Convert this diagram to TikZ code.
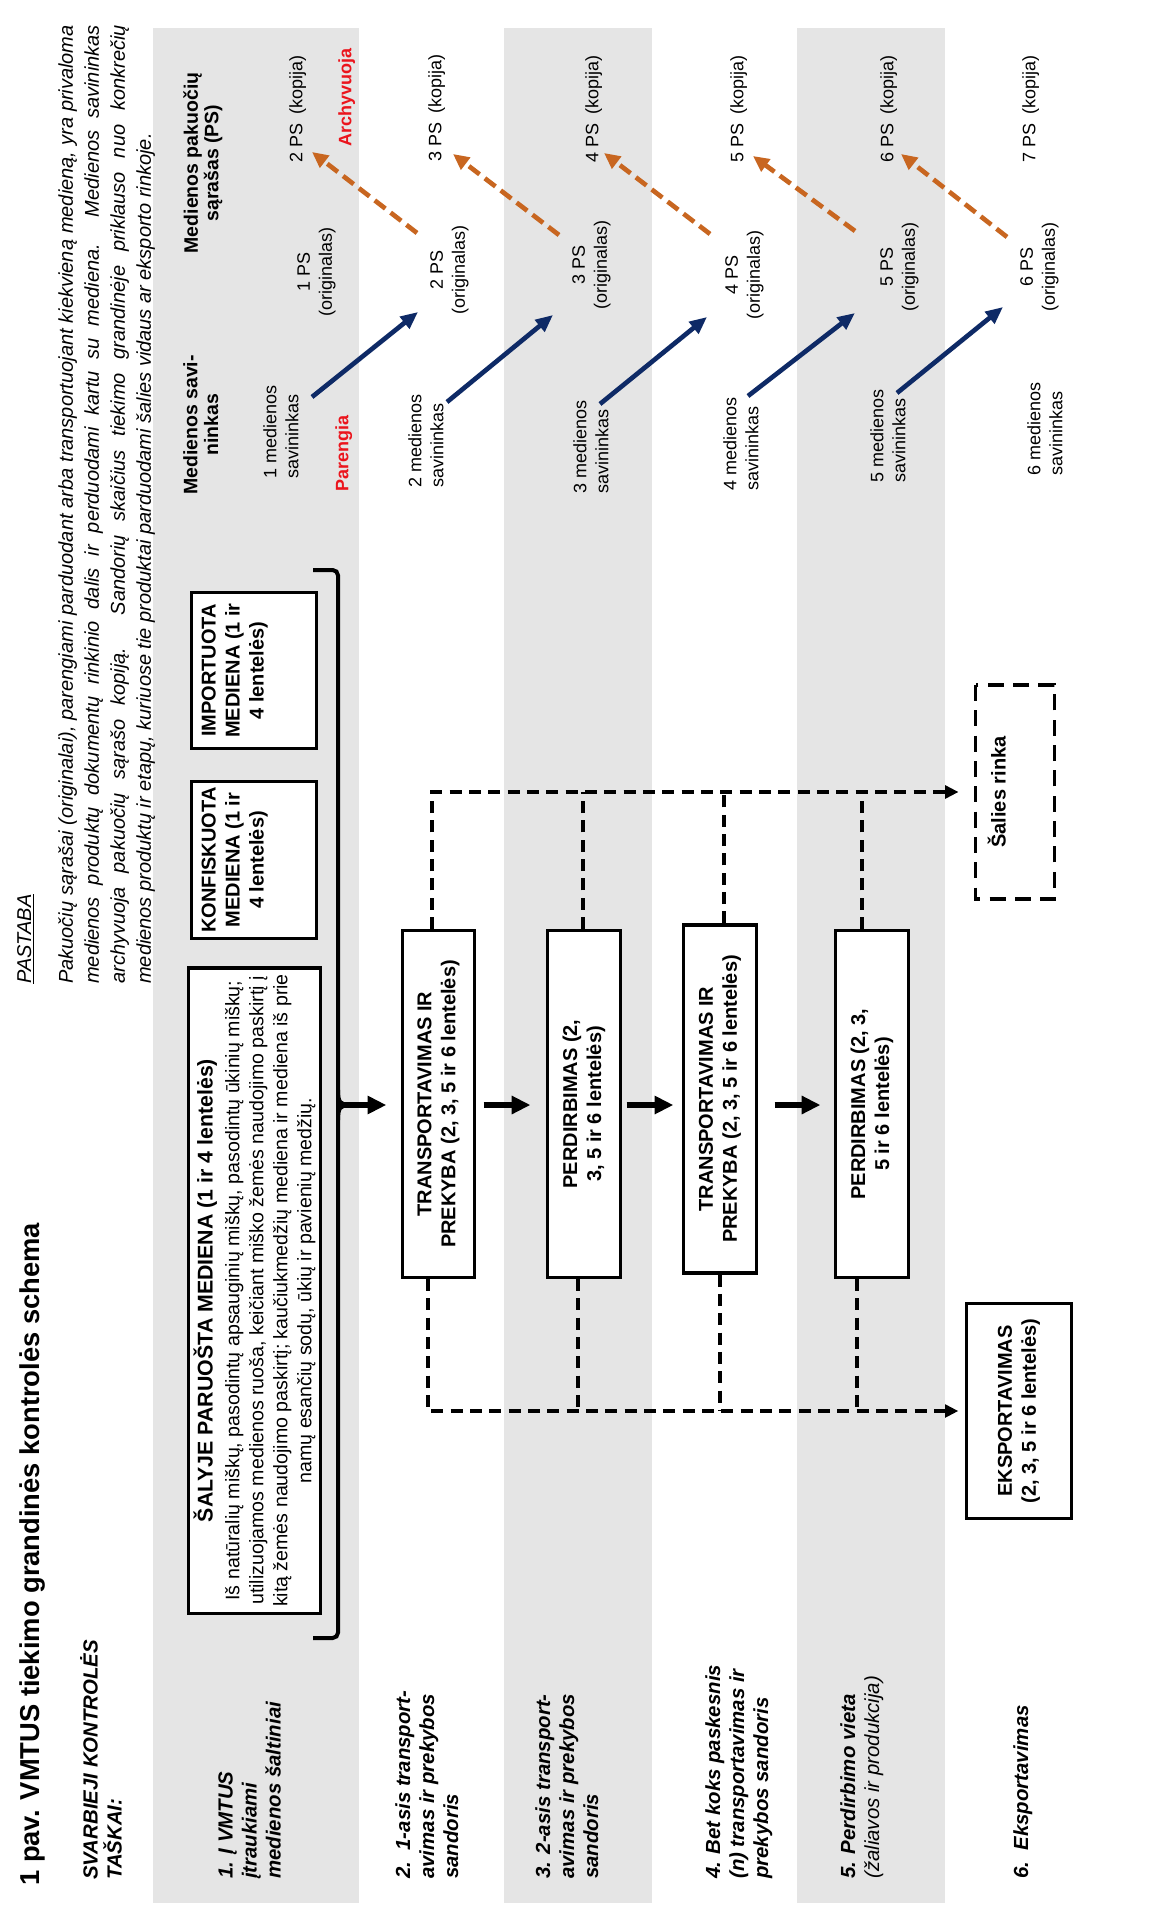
\documentclass[tikz,border=0pt]{standalone}
\usepackage{fontspec}
\setmainfont{Liberation Sans}
\usetikzlibrary{arrows.meta}
\definecolor{bandgray}{RGB}{229,229,229}
\definecolor{navy}{RGB}{14,42,102}
\definecolor{rust}{RGB}{200,102,32}
\definecolor{redtxt}{RGB}{235,20,28}
\newcommand\fTitle{\fontsize{20.5}{24}\selectfont\bfseries}
\newcommand\fBox{\fontsize{15}{18}\selectfont}
\newcommand\fBody{\fontsize{14.7}{18}\selectfont}
\newcommand\fNote{\fontsize{15}{19.5}\selectfont\itshape}
\newcommand\fHead{\fontsize{14.6}{15.5}\selectfont\bfseries}
\newcommand\fSmall{\fontsize{13.5}{16.5}\selectfont}
\newcommand\fLab{\fontsize{15.3}{18}\selectfont\bfseries\itshape}
\begin{document}
\begin{tikzpicture}[x=0.75pt,y=-0.75pt,
  txt/.style={rotate=90,inner sep=0pt,align=left},
  ctxt/.style={rotate=90,inner sep=0pt,align=center},
  mbox/.style={rotate=90,draw,line width=2.5pt,fill=white,inner sep=0pt,align=center,font=\fBox\bfseries},
  dashbox/.style={rotate=90,draw,line width=2.5pt,dash pattern=on 12pt off 7pt,inner sep=0pt},
  bigarrow/.style={line width=5pt,-{Triangle[length=14pt,width=13pt]}},
  dline/.style={line width=2.6pt,dash pattern=on 9pt off 5.5pt},
  dconn/.style={dline,-{Triangle[length=10pt,width=9.5pt]}},
  bluearr/.style={navy,line width=3.5pt,-{Triangle[length=13pt,width=11pt]}},
  rustarr/.style={rust,line width=3.5pt,dash pattern=on 10pt off 5pt,-{Triangle[length=12pt,width=11pt]}},
]
\useasboundingbox (0,0) rectangle (1155,1929);
\fill[white] (0,0) rectangle (1155,1929);
% gray bands
\fill[bandgray] (153,28) rectangle (359,1903);
\fill[bandgray] (504,28) rectangle (652,1903);
\fill[bandgray] (797,28) rectangle (945,1903);

% title and headers
\node[txt, font=\fTitle, anchor=north west] (title) at (19,1886) {1 pav. VMTUS tiekimo grandinės kontrolės schema};
\node[txt, font=\fLab, anchor=north west] (svk) at (80,1880) {SVARBIEJI KONTROLĖS\\TAŠKAI:};
\node[txt, font=\fNote, anchor=north west] (pastaba) at (17,984) {\underline{PASTABA}};
\node[txt, font=\fNote, anchor=north west] (note) at (58,984) {\makebox[719pt][s]{Pakuočių sąrašai (originalai), parengiami parduodant arba transportuojant kiekvieną medieną, yra privaloma}\\
\makebox[719pt][s]{medienos produktų dokumentų rinkinio dalis ir perduodami kartu su mediena. Medienos savininkas}\\
\makebox[719pt][s]{archyvuoja pakuočių sąrašo kopiją. Sandorių skaičius tiekimo grandinėje priklauso nuo konkrečių}\\
medienos produktų ir etapų, kuriuose tie produktai parduodami šalies vidaus ar eksporto rinkoje.};

% row labels
\node[txt, font=\fLab, anchor=north west] (l1) at (218,1879) {1. Į VMTUS\\įtraukiami\\medienos šaltiniai};
\node[txt, font=\fLab, anchor=north west] (l2) at (395,1879) {2.~~1-asis~transport-\\avimas ir prekybos\\sandoris};
\node[txt, font=\fLab, anchor=north west] (l3) at (535,1879) {3. 2-asis transport-\\avimas ir prekybos\\sandoris};
\node[txt, font=\fLab, anchor=north west] (l4) at (705,1879) {4. Bet koks paskesnis\\(n) transportavimas ir\\prekybos sandoris};
\node[txt, font=\fLab, anchor=north west] (l5) at (840,1879) {5. Perdirbimo vieta\\{\mdseries (žaliavos ir produkcija)}};
\node[txt, font=\fLab, anchor=north west] (l6) at (1013,1879) {6.~~Eksportavimas};

% source boxes
\node[mbox, font=\fBody, minimum width=484pt, minimum height=98.8pt] (src) at (254.5,1290.5)
 {{\fontsize{16}{18}\selectfont\bfseries ŠALYJE PARUOŠTA MEDIENA (1 ir 4 lentelės)}\\[2pt]
 Iš natūralių miškų, pasodintų apsauginių miškų, pasodintų ūkinių miškų;\\
 utilizuojamos medienos ruoša, keičiant miško žemės naudojimo paskirtį į\\
 kitą žemės naudojimo paskirtį; kaučiukmedžių mediena ir mediena iš prie\\
 namų esančių sodų, ūkių ir pavienių medžių.};
\node[mbox, minimum width=117.5pt, minimum height=93.5pt] (konf) at (254,860) {};
\node[ctxt, font=\fBox\bfseries, anchor=north] (konft) at ([xshift=8.5pt]konf.north) {KONFISKUOTA\\MEDIENA (1 ir\\4 lentelės)};
\node[mbox, minimum width=116.8pt, minimum height=93.5pt] (imp) at (254,670.5) {};
\node[ctxt, font=\fBox\bfseries, anchor=north] (impt) at ([xshift=8.5pt]imp.north) {IMPORTUOTA\\MEDIENA (1 ir\\4 lentelės)};

% bracket
\coordinate (brk) at (338,1105);
\draw[line width=3pt, rounded corners=4pt] (313,570) -| (338,1638) -- (313,1638);
\draw[line width=3pt] (338,1090) .. controls (338,1102) and (340,1105) .. (350,1105);
\draw[line width=3pt] (338,1120) .. controls (338,1108) and (340,1105) .. (350,1105);

% chain boxes
\node[mbox, minimum width=260pt, minimum height=53.8pt] (T1) at (438.5,1104) {TRANSPORTAVIMAS IR\\PREKYBA (2, 3, 5 ir 6 lentelės)};
\node[mbox, minimum width=260pt, minimum height=54.5pt] (P1) at (584,1104) {PERDIRBIMAS (2,\\3, 5 ir 6 lentelės)};
\node[mbox, minimum width=260.8pt, minimum height=54.5pt] (T2) at (720,1099) {TRANSPORTAVIMAS IR\\PREKYBA (2, 3, 5 ir 6 lentelės)};
\node[mbox, minimum width=260pt, minimum height=54.5pt] (P2) at (872,1104) {PERDIRBIMAS (2, 3,\\5 ir 6 lentelės)};

\node[dashbox, minimum width=160.5pt, minimum height=59pt] (salies) at (1015,792) {};
\node[ctxt, font=\fBox\bfseries, anchor=north] (saliest) at ([xshift=10pt]salies.north) {Šalies rinka};
\node[mbox, minimum width=161pt, minimum height=78.5pt] (eksp) at (1019,1411) {EKSPORTAVIMAS\\(2, 3, 5 ir 6 lentelės)};

% main arrows
\coordinate (ay) at (0,1105);
\draw[bigarrow, shorten >=11pt] (brk) -- (brk -| T1.north);
\draw[bigarrow, shorten <=5.7pt, shorten >=11.7pt] (T1.south |- ay) -- (P1.north |- ay);
\draw[bigarrow, shorten <=3.5pt, shorten >=6.5pt] (P1.south |- ay) -- (T2.north |- ay);
\draw[bigarrow, shorten <=12.5pt, shorten >=10.2pt] (T2.south |- ay) -- (P2.north |- ay);

% dashed connectors
\coordinate (t1) at (432,792); \coordinate (t2) at (583,792);
\coordinate (t3) at (724,792); \coordinate (t4) at (862,792);
\coordinate (b1) at (428,1411); \coordinate (b2) at (578,1411);
\coordinate (b3) at (720,1411); \coordinate (b4) at (857,1411);
\draw[dconn, shorten >=11.6pt] (T1.east -| t1) -- (t1) -- (t1 -| salies.north);
\draw[dline] (P1.east -| t2) -- (t2);
\draw[dline] (T2.east -| t3) -- (t3);
\draw[dline] (P2.east -| t4) -- (t4);
\draw[dconn, shorten >=5pt] (T1.west -| b1) -- (b1) -- (b1 -| eksp.north);
\draw[dline] (P1.west -| b2) -- (b2);
\draw[dline] (T2.west -| b3) -- (b3);
\draw[dline] (P2.west -| b4) -- (b4);

% right side headers
\node[ctxt, font=\fHead, anchor=north] (hown) at (183,425) {Medienos savi-\\ninkas};
\node[ctxt, font=\fHead, anchor=north] (hps) at (183,163) {Medienos pakuočių\\sąrašas (PS)};
\node[txt, font=\fSmall\bfseries, text=redtxt, anchor=north west] (par) at (335,492) {Parengia};
\node[txt, font=\fSmall\bfseries, text=redtxt, anchor=north west] (arch) at (338,147) {Archyvuoja};

% owners
\node[txt, font=\fSmall, anchor=north west] (o1) at (263,479) {1 medienos\\savininkas};
\node[txt, font=\fSmall, anchor=north west] (o2) at (408,488) {2 medienos\\savininkas};
\node[txt, font=\fSmall, anchor=north west] (o3) at (573,494) {3 medienos\\savininkas};
\node[txt, font=\fSmall, anchor=north west] (o4) at (723,491) {4 medienos\\savininkas};
\node[txt, font=\fSmall, anchor=north west] (o5) at (870,483) {5 medienos\\savininkas};
\node[txt, font=\fSmall, anchor=north west] (o6) at (1027,476) {6 medienos\\savininkas};
% packing lists (originals)
\node[ctxt, font=\fSmall, anchor=north] (p1) at (297,272) {1 PS\\(originalas)};
\node[ctxt, font=\fSmall, anchor=north] (p2) at (430,270) {2 PS\\(originalas)};
\node[ctxt, font=\fSmall, anchor=north] (p3) at (572,265) {3 PS\\(originalas)};
\node[ctxt, font=\fSmall, anchor=north] (p4) at (725,275) {4 PS\\(originalas)};
\node[ctxt, font=\fSmall, anchor=north] (p5) at (880,267) {5 PS\\(originalas)};
\node[ctxt, font=\fSmall, anchor=north] (p6) at (1020,267) {6 PS\\(originalas)};
% copies
\node[txt, font=\fSmall, anchor=north west] (k1) at (289,163) {2 PS\hspace{0.5em}(kopija)};
\node[txt, font=\fSmall, anchor=north west] (k2) at (428,162) {3 PS\hspace{0.5em}(kopija)};
\node[txt, font=\fSmall, anchor=north west] (k3) at (585,163) {4 PS\hspace{0.5em}(kopija)};
\node[txt, font=\fSmall, anchor=north west] (k4) at (730,163) {5 PS\hspace{0.5em}(kopija)};
\node[txt, font=\fSmall, anchor=north west] (k5) at (880,163) {6 PS\hspace{0.5em}(kopija)};
\node[txt, font=\fSmall, anchor=north west] (k6) at (1022,163) {7 PS\hspace{0.5em}(kopija)};

% blue arrows (owner -> next original)
\coordinate (bs1) at (312,397); \coordinate (be1) at (418,312);
\coordinate (bs2) at (447,402); \coordinate (be2) at (553,315);
\coordinate (bs3) at (600,404); \coordinate (be3) at (707,317);
\coordinate (bs4) at (748,396); \coordinate (be4) at (855,313);
\coordinate (bs5) at (897,393); \coordinate (be5) at (1003,307);
\foreach \i in {1,...,5} {\draw[bluearr] (bs\i) -- (be\i);}
% orange dashed arrows (original -> copy archived)
\coordinate (rs1) at (417,233); \coordinate (re1) at (312,152);
\coordinate (rs2) at (559,235); \coordinate (re2) at (453,154);
\coordinate (rs3) at (710,234); \coordinate (re3) at (604,153);
\coordinate (rs4) at (855,231); \coordinate (re4) at (753,156);
\coordinate (rs5) at (1007,237); \coordinate (re5) at (901,154);
\foreach \i in {1,...,5} {\draw[rustarr] (rs\i) -- (re\i);}
\end{tikzpicture}
\end{document}
